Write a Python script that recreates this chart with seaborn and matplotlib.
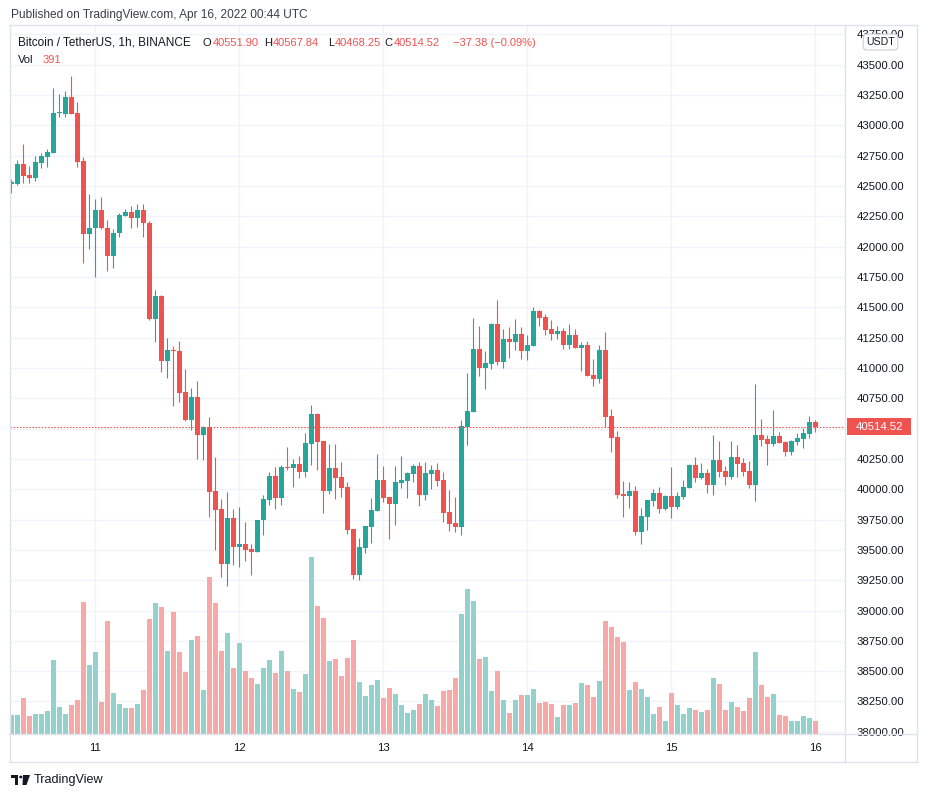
import numpy as np
import pandas as pd
import matplotlib
matplotlib.use("Agg")
import matplotlib.pyplot as plt
import matplotlib.dates as mdates
from matplotlib.patches import Rectangle, Circle, Polygon
from matplotlib.lines import Line2D
from matplotlib.ticker import FuncFormatter
from matplotlib.transforms import blended_transform_factory
import seaborn as sns

# ---------------- data (BTC/USDT, 1h, Binance) ----------------
start_time = "2022-04-10 10:00"

opens = [42520, 42516, 42681, 42590, 42568, 42692, 42741, 42774, 43098, 43096,
         43234, 43102, 42706, 42107, 42151, 42300, 42151, 41925, 42110, 42255,
         42286, 42239, 42302, 42197, 41404, 41593, 41060, 41148, 41140, 40802,
         40571, 40761, 40450, 40513, 39986, 39837, 39386, 39763, 39527, 39549,
         39508, 39485, 39747, 39914, 40109, 39930, 40181, 40178, 40208, 40145,
         40376, 40620, 40398, 39988, 40175, 40101, 40019, 39672, 39296, 39518,
         39692, 39823, 40076, 39936, 39881, 40054, 40070, 40128, 40192, 39955,
         40128, 40159, 40076, 39813, 39722, 39689, 40516, 40639, 41156, 41002,
         41035, 41362, 41052, 41239, 41216, 41280, 41142, 41183, 41469, 41420,
         41321, 41282, 41305, 41192, 41272, 41167, 41189, 40942, 40911, 41148,
         40604, 40431, 39961, 39947, 39986, 39650, 39774, 39905, 39969, 39840,
         39944, 39856, 39939, 40013, 40200, 40095, 40134, 40038, 40241, 40151,
         40104, 40266, 40216, 40151, 40038, 40447, 40414, 40375, 40439, 40390,
         40310, 40392, 40417, 40458, 40551.90]
highs = [42558, 42714, 42846, 42665, 42747, 42769, 42802, 43308, 43258, 43283,
         43407, 43192, 42739, 42431, 42390, 42409, 42220, 42145, 42280, 42310,
         42335, 42352, 42352, 42210, 41643, 41600, 41247, 41181, 41222, 40991,
         40835, 40892, 40522, 40596, 40266, 39920, 39977, 39837, 39854, 39730,
         39549, 39750, 39953, 40142, 40184, 40200, 40346, 40249, 40274, 40464,
         40695, 40628, 40400, 40373, 40373, 40225, 40060, 39675, 39598, 39700,
         39928, 40291, 40192, 39940, 40192, 40274, 40142, 40208, 40225, 40225,
         40200, 40217, 40142, 39994, 39936, 40571, 40958, 41412, 41346, 41140,
         41370, 41560, 41321, 41338, 41404, 41338, 41272, 41502, 41475, 41445,
         41395, 41346, 41329, 41362, 41321, 41214, 41222, 41074, 41189, 41296,
         40662, 40480, 40068, 40060, 40027, 39846, 39915, 40002, 40019, 39950,
         40184, 39977, 40076, 40208, 40266, 40217, 40167, 40447, 40398, 40192,
         40398, 40365, 40258, 40233, 40868, 40579, 40447, 40653, 40472, 40398,
         40408, 40464, 40505, 40604, 40567.84]
lows = [42440, 42512, 42527, 42527, 42544, 42651, 42659, 42770, 43071, 43071,
        43090, 42659, 41868, 41983, 41752, 42145, 41802, 41826, 42082, 42250,
        42156, 42164, 42082, 41395, 41216, 40969, 40920, 40689, 40722, 40565,
        40489, 40252, 40244, 39774, 39502, 39279, 39205, 39378, 39362, 39411,
        39296, 39480, 39625, 39870, 39840, 39873, 40160, 40021, 40095, 40104,
        40202, 40161, 39807, 39963, 39922, 39939, 39634, 39263, 39255, 39477,
        39560, 39818, 39897, 39592, 39708, 40013, 39930, 40060, 39865, 39914,
        40005, 40029, 39733, 39658, 39650, 39625, 40367, 40635, 40936, 40829,
        40994, 41027, 41002, 41085, 41150, 41076, 41068, 41180, 41348, 41274,
        41233, 41241, 41159, 41159, 41162, 40977, 40930, 40854, 40878, 40516,
        40310, 39930, 39774, 39848, 39625, 39551, 39667, 39865, 39807, 39832,
        39766, 39840, 39922, 40010, 40062, 40087, 39972, 39955, 40104, 40038,
        40087, 40104, 40112, 40013, 39906, 40357, 40202, 40359, 40380, 40277,
        40285, 40367, 40340, 40422, 40468.25]
closes = [42525, 42681, 42585, 42568, 42698, 42747, 42780, 43102, 43104, 43234,
          43096, 42700, 42107, 42151, 42300, 42151, 41925, 42110, 42261, 42286,
          42239, 42302, 42192, 41404, 41593, 41060, 41148, 41137, 40796, 40571,
          40761, 40450, 40513, 39980, 39831, 39386, 39763, 39527, 39549, 39502,
          39485, 39747, 39920, 40109, 39930, 40184, 40175, 40208, 40145, 40381,
          40620, 40392, 39988, 40175, 40095, 40013, 39667, 39296, 39524, 39697,
          39829, 40076, 39930, 39881, 40060, 40076, 40134, 40192, 39955, 40134,
          40159, 40071, 39807, 39716, 39689, 40522, 40645, 41156, 41002, 41041,
          41362, 41052, 41239, 41216, 41280, 41142, 41189, 41469, 41414, 41315,
          41282, 41305, 41192, 41272, 41167, 41189, 40936, 40911, 41148, 40598,
          40425, 39955, 39947, 39986, 39650, 39780, 39911, 39969, 39840, 39944,
          39856, 39944, 40019, 40200, 40095, 40134, 40038, 40241, 40145, 40104,
          40266, 40211, 40145, 40038, 40447, 40406, 40375, 40439, 40384, 40310,
          40400, 40422, 40464, 40554, 40514.52]
volumes = [577, 577, 1102, 546, 608, 608, 700, 2276, 824, 608,
           886, 1040, 4069, 2122, 2524, 979, 3481, 1257, 917, 793,
           793, 917, 1349, 3543, 4038, 3914, 2554, 3760, 2524, 1906,
           2894, 3018, 1349, 4841, 4038, 2554, 3111, 2029, 2802, 1936,
           1720, 1535, 2029, 2276, 1875, 2554, 1936, 1380, 1288, 1844,
           5459, 3945, 3574, 2245, 2307, 1782, 2338, 2894, 1597, 1164,
           1504, 1658, 1102, 1411, 1226, 886, 639, 731, 917, 1226,
           1040, 855, 1318, 1349, 1720, 3698, 4470, 4099, 2307, 2369,
           1318, 1936, 1040, 639, 1040, 1195, 1195, 1380, 948, 979,
           917, 515, 886, 886, 948, 1566, 1504, 1133, 1627, 3481,
           3296, 2987, 2833, 1349, 1597, 1380, 1133, 608, 824, 391,
           1257, 886, 608, 793, 731, 670, 731, 1720, 1535, 731,
           979, 824, 700, 1102, 2524, 1504, 1133, 1226, 577, 546,
           391, 391, 546, 484, 391]

price_ticks = [38000, 38250, 38500, 38750, 39000, 39250, 39500, 39750, 40000,
               40250, 40500, 40750, 41000, 41250, 41500, 41750, 42000, 42250,
               42500, 42750, 43000, 43250, 43500, 43750]
symbol_title = "Bitcoin / TetherUS, 1h, BINANCE"
published = "Published on TradingView.com, Apr 16, 2022 00:44 UTC"
change_abs = -37.38
change_pct = -0.09
quote_ccy = "USDT"

# ---------------- style ----------------
UP = "#26a69a"
DN = "#ef5350"
UP_VOL = "#93d2cc"
DN_VOL = "#f7a9a8"
GRID = "#f0f3fa"
BORDER = "#e0e3eb"
TXT = "#131722"

sns.set_theme(style="white")
plt.rcParams["font.family"] = ["Liberation Sans", "DejaVu Sans"]

W, H = 926, 797
fig = plt.figure(figsize=(W / 100, H / 100), dpi=100)
fig.patch.set_facecolor("white")


def fx(px):
    return px / W


def fy(py):
    return 1 - py / H


L_PX, R_PX, T_PX, B_PX = 10, 845, 26, 734
ax_vol = fig.add_axes([fx(L_PX), fy(B_PX), (R_PX - L_PX) / W, (B_PX - T_PX) / H])
ax = ax_vol.twinx()

df = pd.DataFrame({
    "time": pd.date_range(start_time, periods=len(opens), freq="h"),
    "open": opens, "high": highs, "low": lows, "close": closes, "volume": volumes,
})
df["t"] = mdates.date2num(df["time"])
df["dir"] = np.where(df["close"] >= df["open"], "up", "down")
last = df.iloc[-1]

# ---- volume (behind) ----
sns.barplot(data=df, x="t", y="volume", hue="dir",
            palette={"up": UP_VOL, "down": DN_VOL}, native_scale=True,
            dodge=False, errorbar=None, legend=False, width=0.82,
            saturation=1, linewidth=0, ax=ax_vol)
vol_per_px = 30.9
ax_vol.set_ylim(0, vol_per_px * (B_PX - T_PX))

hour = 1 / 24
ax_vol.set_xlim(df["t"].iloc[0] - 0.217 * hour, df["t"].iloc[-1] + 4.95 * hour)

# grid
ax_vol.xaxis.set_major_locator(mdates.DayLocator())
ax_vol.xaxis.set_major_formatter(mdates.DateFormatter("%d"))
ax_vol.grid(axis="x", color=GRID, lw=1.0, zorder=0)
ax_vol.set_axisbelow(True)
ax_vol.tick_params(axis="x", length=0, pad=6.5, labelsize=8.2, labelcolor=TXT)
ax_vol.tick_params(axis="y", left=False, labelleft=False, length=0)
ax_vol.set_xlabel("")
ax_vol.set_ylabel("")

ax.set_ylim(37982, 43819)
blend = blended_transform_factory(ax_vol.transAxes, ax.transData)
for p in price_ticks:
    ax_vol.add_line(Line2D([0, 1], [p, p], transform=blend, color=GRID,
                           lw=1.0, zorder=0))

# ---- candles ----
up = (df["close"] >= df["open"]).to_numpy()
cols = np.where(up, UP, DN)
ax.vlines(df["t"], df["low"], df["high"], colors=cols, linewidth=0.8, zorder=2)
body_lo = np.minimum(df["open"], df["close"])
body_h = np.maximum((df["close"] - df["open"]).abs(), 9)
ax.bar(df["t"], body_h, bottom=body_lo, width=0.82 * hour, color=cols,
       linewidth=0, zorder=3)

ax.axhline(last["close"], color=DN, lw=0.75, linestyle=(0, (1.5, 1.5)), zorder=4)


def price_fmt(v, _):
    # the label hidden under the last-price tag is not shown
    if abs(v - last["close"]) < 100:
        return ""
    return f"{v:.2f}"


ax.set_yticks(price_ticks)
ax.yaxis.set_major_formatter(FuncFormatter(price_fmt))
ax.tick_params(axis="y", length=0, pad=8.5, labelsize=8.2, labelcolor=TXT)
ax.set_ylabel("")
for a in (ax, ax_vol):
    for s in a.spines.values():
        s.set_visible(False)

# price tag on the axis
tag_tr = blended_transform_factory(fig.transFigure, ax.transData)
ax.add_patch(Rectangle((fx(847), last["close"] - 70), 64 / W, 140,
                       transform=tag_tr, facecolor=DN, edgecolor="none",
                       clip_on=False, zorder=10))
ax.text(fx(879), last["close"], f"{last['close']:.2f}", transform=tag_tr,
        color="white", fontsize=8.2, ha="center", va="center",
        clip_on=False, zorder=11)

# ---- frame lines ----
for xs, ys in [((9, 917), (25, 25)), ((9, 917), (762, 762)),
               ((9.5, 9.5), (25, 762)), ((916.5, 916.5), (25, 762)),
               ((845, 845), (25, 762)), ((9, 917), (734, 734))]:
    fig.add_artist(Line2D([fx(xs[0]), fx(xs[1])], [fy(ys[0]), fy(ys[1])],
                          transform=fig.transFigure, color=BORDER, lw=1.0))

# ---- texts ----
fig.canvas.draw()
renderer = fig.canvas.get_renderer()


def put(px, py, s, color, size, fit=None, ha="left", **kw):
    t = fig.text(fx(px), fy(py), s, color=color, fontsize=size, ha=ha,
                 va="center", **kw)
    if fit:
        w = t.get_window_extent(renderer).width
        t.set_fontsize(size * fit / w)
    return t


put(10.8, 15, published, "#3a3e4a", 9, fit=297)
put(18, 42.7, symbol_title, TXT, 9, fit=173)
vt = put(212.5, 42.7, f"{last['open']:.2f}", DN, 9, fit=46.5)
lsz = vt.get_fontsize()
pieces = [(202.3, "O", TXT),
          (264.0, "H", TXT), (272.8, f"{last['high']:.2f}", DN),
          (328.0, "L", TXT), (334.5, f"{last['low']:.2f}", DN),
          (384.6, "C", TXT), (393.6, f"{last['close']:.2f}", DN),
          (453.0, f"\u2212{abs(change_abs):.2f} (\u2212{abs(change_pct):.2f}%)", DN)]
for px, s, c in pieces:
    put(px, 42.7, s, c, lsz)
put(18, 60, "Vol", TXT, lsz)
put(42.4, 60, f"{int(last['volume'])}", DN, lsz)

# currency badge
fig.text(fx(880.5), fy(42), quote_ccy, color=TXT, fontsize=7.6, ha="center",
         va="center", zorder=20,
         bbox=dict(boxstyle="round,pad=0.28,rounding_size=0.35", fc="white",
                   ec="#c9ccd4", lw=0.8))

# footer logo
logo = [Rectangle((fx(11), fy(778)), 7 / W, 3 / H),
        Rectangle((fx(15), fy(785)), 3 / W, 10 / H),
        Circle((fx(20.8), fy(777)), 1.6 / W),
        Polygon([(fx(23), fy(775)), (fx(30), fy(775)), (fx(26.5), fy(785)),
                 (fx(22.5), fy(785))], closed=True)]
for pch in logo:
    pch.set_transform(fig.transFigure)
    pch.set_facecolor("#131722")
    pch.set_edgecolor("none")
    fig.add_artist(pch)
put(33.8, 780, "TradingView", TXT, 9, fit=70)

fig.savefig("out.png", dpi=100, facecolor="white")
